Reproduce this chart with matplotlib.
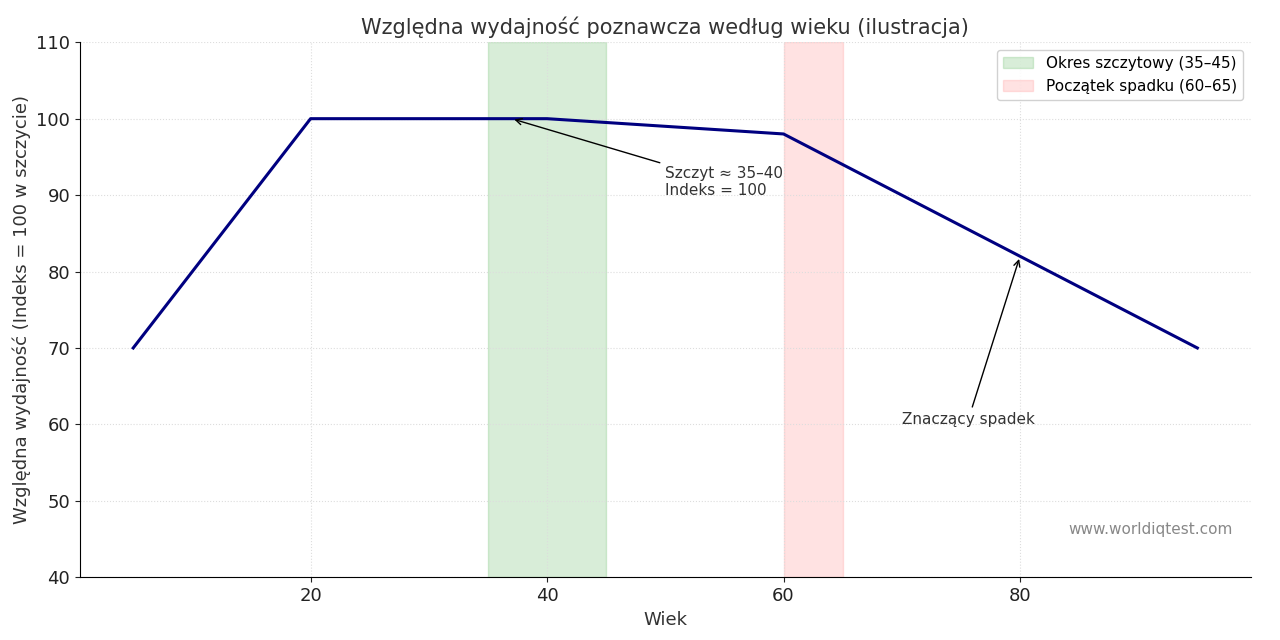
import matplotlib
matplotlib.use("Agg")
import matplotlib.pyplot as plt

ages = [5, 20, 35, 40, 60, 80, 95]
index = [70, 100, 100, 100, 98, 82, 70]
xticks = [20, 40, 60, 80]

fig = plt.figure(figsize=(12.8, 6.4), dpi=100)
ax = fig.add_axes([0.0625, 0.098, 0.9145, 0.836])
ax.axvspan(35, 45, color="#2ca02c", alpha=0.18, label="Okres szczytowy (35–45)")
ax.axvspan(60, 65, color="#ff9999", alpha=0.28, label="Początek spadku (60–65)")
ax.plot(ages, index, color="#000080", lw=2.2)
ax.set_ylim(40, 110)
ax.set_xlim(0.5, 99.5)
ax.set_xticks(xticks)
ax.grid(True, ls=":", color="#dddddd", lw=0.8)
for s in ["top", "right"]:
    ax.spines[s].set_visible(False)
ax.tick_params(labelsize=13, colors="#222222")
ax.set_xlabel("Wiek", fontsize=13, color="#333333")
ax.set_ylabel("Względna wydajność (Indeks = 100 w szczycie)", fontsize=13, color="#333333")
ax.set_title("Względna wydajność poznawcza według wieku (ilustracja)", fontsize=15, color="#333333")
ax.annotate("Szczyt ≈ 35–40\nIndeks = 100", xy=(37, 100), xytext=(50, 90),
            fontsize=11, color="#333333", arrowprops=dict(arrowstyle="->", color="black", lw=1))
ax.annotate("Znaczący spadek", xy=(80, 82), xytext=(70, 60),
            fontsize=11, color="#333333", arrowprops=dict(arrowstyle="->", color="black", lw=1))
ax.text(0.985, 0.08, "www.worldiqtest.com", transform=ax.transAxes, ha="right",
        fontsize=11, color="#888888")
ax.legend(loc="upper right", fontsize=11, framealpha=0.9)
fig.savefig("out.png", dpi=100)
